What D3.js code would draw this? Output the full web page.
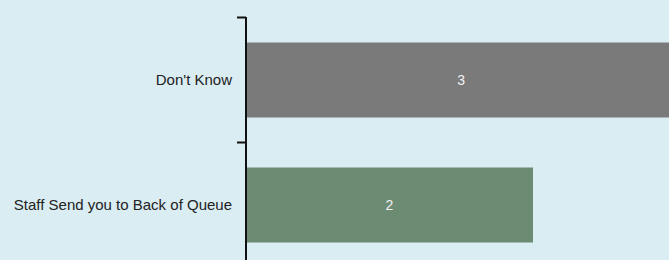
<!doctype html>
<html>
<head>
  <style>
    body { margin:0; background:#daedf3; }
    svg { display:block; }
    text { font-family: Arial, "Liberation Sans", Helvetica, sans-serif; }
  </style>
  <script src="https://d3js.org/d3.v7.min.js"></script>
</head>
<body>
  <script type="text/javascript">
    var categories = ["Don't Know", "Staff Send you to Back of Queue"];
    var values = [3, 2];
    var barColors = ["#7a7a7a", "#6b8b73"];

    var width = 669, height = 260;
    var left = 246;

    var svg = d3.select("body")
      .append("svg")
        .attr("width", width)
        .attr("height", height);

    var x = d3.scaleLinear()
      .domain([0, 3])
      .range([left, 676.5]);

    var y = d3.scaleBand()
      .domain(categories)
      .range([17.5, 267.5])
      .paddingInner(0.4)
      .paddingOuter(0.2);

    var data = categories.map(function(c, i) {
      return {cat: c, val: values[i], color: barColors[i]};
    });

    // bars
    svg.selectAll("rect.bar")
      .data(data)
      .enter().append("rect")
        .attr("class", "bar")
        .attr("x", x(0))
        .attr("y", function(d) { return y(d.cat); })
        .attr("width", function(d) { return x(d.val) - x(0); })
        .attr("height", y.bandwidth())
        .attr("fill", function(d) { return d.color; });

    // value labels
    svg.selectAll("text.val")
      .data(data)
      .enter().append("text")
        .attr("class", "val")
        .attr("x", function(d) { return (x(0) + x(d.val)) / 2; })
        .attr("y", function(d) { return y(d.cat) + y.bandwidth() / 2; })
        .attr("dy", "0.35em")
        .attr("text-anchor", "middle")
        .style("font-size", "14px")
        .attr("fill", "#f2f2f2")
        .text(function(d) { return d.val; });

    // axis
    var g = svg.append("g");
    g.append("line")
      .attr("x1", left).attr("x2", left)
      .attr("y1", 17).attr("y2", height)
      .attr("stroke", "#111").attr("stroke-width", 2);

    var step = y.step();
    g.selectAll("line.tick")
      .data(categories)
      .enter().append("line")
        .attr("class", "tick")
        .attr("x1", left - 9).attr("x2", left)
        .attr("y1", function(d) { return y(d) - step * 0.2; })
        .attr("y2", function(d) { return y(d) - step * 0.2; })
        .attr("stroke", "#111").attr("stroke-width", 2);

    g.selectAll("text.cat")
      .data(categories)
      .enter().append("text")
        .attr("class", "cat")
        .attr("x", left - 14)
        .attr("y", function(d) { return y(d) + y.bandwidth() / 2; })
        .attr("dy", "0.35em")
        .attr("text-anchor", "end")
        .style("font-size", "15px")
        .attr("fill", "#222")
        .text(function(d) { return d; });
  </script>
</body>
</html>
